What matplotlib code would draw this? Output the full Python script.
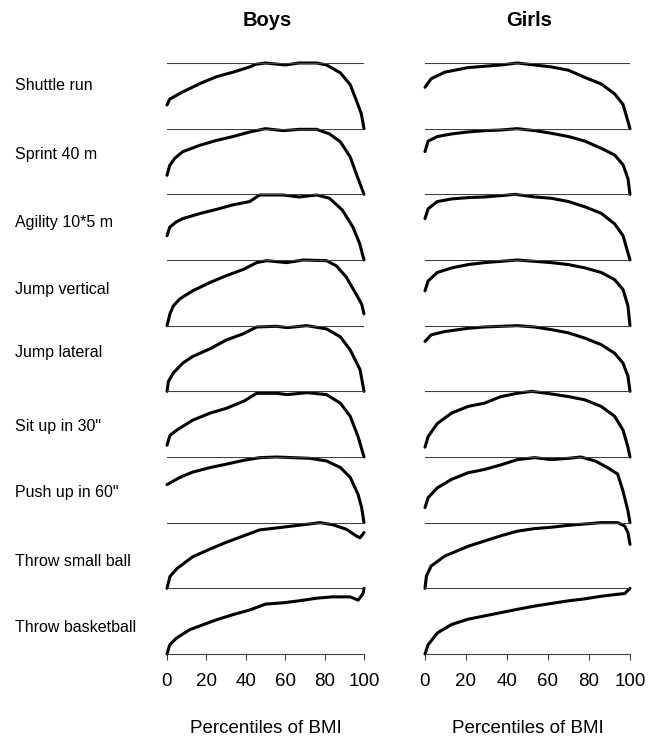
import matplotlib
matplotlib.use('Agg')
import matplotlib.pyplot as plt

plt.rcParams['font.family'] = ['Liberation Sans', 'DejaVu Sans']

# test names, top to bottom
tests = ['Shuttle run', 'Sprint 40 m', 'Agility 10*5 m', 'Jump vertical', 'Jump lateral',
         'Sit up in 30"', 'Push up in 60"', 'Throw small ball', 'Throw basketball']

# BOYS - percentile of BMI and relative score (0 = panel min, 1 = panel max)
boys_shuttle_pct = [0, 1.4, 8, 17, 25, 33.5, 42, 45, 50, 60, 67, 76, 81, 88, 93, 96, 98.6, 100]
boys_shuttle_val = [0.36, 0.45, 0.56, 0.69, 0.79, 0.86, 0.94, 0.98, 1.0, 0.97, 1.0, 1.0, 0.97, 0.85, 0.67, 0.44, 0.23, 0.0]

boys_sprint_pct = [0, 1.4, 4, 8, 17, 25, 33.5, 42, 50, 59, 67, 76, 82.5, 88, 93, 96, 100]
boys_sprint_val = [0.29, 0.44, 0.55, 0.65, 0.75, 0.82, 0.88, 0.95, 1.0, 0.97, 0.99, 0.99, 0.92, 0.80, 0.57, 0.32, 0.0]

boys_agility_pct = [0, 1.4, 4.7, 8, 17, 25, 33.5, 42, 47, 59, 67, 76, 82.5, 89, 94.4, 97.8, 100]
boys_agility_val = [0.37, 0.50, 0.58, 0.63, 0.71, 0.77, 0.84, 0.89, 0.99, 0.99, 0.96, 0.99, 0.94, 0.76, 0.50, 0.25, 0.0]

boys_jumpv_pct = [0, 1.5, 3.2, 6.6, 13, 22, 30, 39, 45.5, 50.6, 60.7, 69, 81, 86, 91, 96, 98.8, 100]
boys_jumpv_val = [0.0, 0.18, 0.30, 0.41, 0.53, 0.66, 0.76, 0.86, 0.96, 0.99, 0.96, 1.0, 0.99, 0.91, 0.74, 0.48, 0.33, 0.18]

boys_jumpl_pct = [0, 0.7, 3.2, 8, 13, 22, 30, 39, 45.5, 55.7, 61, 71, 81, 88, 93, 98, 100]
boys_jumpl_val = [0.0, 0.15, 0.28, 0.43, 0.53, 0.65, 0.78, 0.88, 0.98, 0.99, 0.97, 1.0, 0.95, 0.83, 0.63, 0.33, 0.0]

boys_situp_pct = [0, 1.5, 5, 13, 22, 30, 39, 45.5, 55.7, 61, 71, 81, 88, 93, 97, 100]
boys_situp_val = [0.18, 0.33, 0.41, 0.56, 0.67, 0.74, 0.85, 0.97, 0.97, 0.95, 0.98, 0.95, 0.82, 0.62, 0.31, 0.0]

boys_pushup_pct = [0, 6.6, 13, 22, 30, 39, 47, 55.7, 64, 72.6, 81, 88, 93, 97, 98.8, 100]
boys_pushup_val = [0.58, 0.69, 0.77, 0.84, 0.89, 0.95, 0.99, 1.0, 0.99, 0.98, 0.94, 0.84, 0.69, 0.43, 0.23, 0.0]

boys_small_pct = [0, 1.5, 5, 13, 22, 30, 39, 47, 55.7, 64, 77.7, 84, 91, 96, 98, 100]
boys_small_val = [0.0, 0.18, 0.30, 0.48, 0.60, 0.70, 0.80, 0.89, 0.92, 0.95, 1.0, 0.97, 0.90, 0.80, 0.77, 0.85]

boys_basket_pct = [0, 1.4, 4.7, 11.5, 25, 33.5, 42, 50, 59, 67, 76, 84, 93, 97, 99.5, 100]
boys_basket_val = [0.0, 0.14, 0.24, 0.37, 0.52, 0.60, 0.67, 0.76, 0.78, 0.81, 0.85, 0.87, 0.87, 0.82, 0.92, 1.0]

# GIRLS
girls_shuttle_pct = [0, 3, 9.6, 21, 29, 37, 45, 53.5, 61.6, 70, 78, 86, 92.5, 96.6, 99, 100]
girls_shuttle_val = [0.63, 0.76, 0.86, 0.93, 0.95, 0.97, 1.0, 0.97, 0.94, 0.89, 0.78, 0.68, 0.53, 0.37, 0.11, 0.0]

girls_sprint_pct = [0, 1.5, 6, 13, 21, 29, 37, 45, 53.5, 61.6, 70, 78, 86, 92.5, 96.6, 99, 100]
girls_sprint_val = [0.65, 0.81, 0.88, 0.92, 0.95, 0.97, 0.98, 1.0, 0.97, 0.93, 0.88, 0.81, 0.70, 0.60, 0.45, 0.24, 0.0]

girls_agility_pct = [0, 1.5, 6, 13, 21, 29, 37, 44, 53.5, 61.6, 70, 78, 86, 92.5, 96.6, 99, 100]
girls_agility_val = [0.63, 0.78, 0.89, 0.93, 0.95, 0.96, 0.98, 1.0, 0.96, 0.94, 0.89, 0.81, 0.71, 0.55, 0.37, 0.11, 0.0]

girls_jumpv_pct = [0, 1.5, 6, 13, 21, 29, 37, 45, 53.5, 61.6, 70, 78, 86, 92.5, 96.6, 99, 100]
girls_jumpv_val = [0.53, 0.68, 0.81, 0.88, 0.93, 0.96, 0.98, 1.0, 0.98, 0.96, 0.93, 0.88, 0.81, 0.70, 0.55, 0.30, 0.0]

girls_jumpl_pct = [0, 3, 9.6, 21, 29, 37, 45, 53.5, 61.6, 70, 78, 86, 92.5, 96.6, 99, 100]
girls_jumpl_val = [0.76, 0.86, 0.91, 0.96, 0.98, 0.99, 1.0, 0.98, 0.94, 0.89, 0.81, 0.71, 0.58, 0.43, 0.23, 0.0]

girls_situp_pct = [0, 1.5, 6, 13, 21, 29, 37, 45, 52, 61.6, 70, 78, 86, 92.5, 96.6, 99, 100]
girls_situp_val = [0.15, 0.31, 0.51, 0.67, 0.77, 0.82, 0.92, 0.97, 1.0, 0.96, 0.92, 0.87, 0.77, 0.62, 0.41, 0.15, 0.0]

girls_pushup_pct = [0, 1.5, 6, 13, 21, 29, 37, 45, 53.5, 61.6, 70, 76, 83, 89, 94, 96.6, 99, 100]
girls_pushup_val = [0.23, 0.38, 0.53, 0.66, 0.76, 0.81, 0.88, 0.96, 0.99, 0.96, 0.98, 1.0, 0.94, 0.84, 0.74, 0.48, 0.18, 0.0]

girls_small_pct = [0, 0.7, 3, 9.6, 21, 29, 37, 45, 53.5, 61.6, 70, 78, 86, 94, 97.4, 99, 100]
girls_small_val = [0.0, 0.19, 0.34, 0.49, 0.64, 0.72, 0.80, 0.87, 0.91, 0.93, 0.96, 0.98, 1.0, 1.0, 0.95, 0.85, 0.67]

girls_basket_pct = [0, 1.5, 6, 13, 21, 29, 37, 45, 53.5, 61.6, 70, 78, 86, 94, 97.4, 100]
girls_basket_val = [0.0, 0.14, 0.32, 0.45, 0.53, 0.58, 0.63, 0.68, 0.73, 0.77, 0.81, 0.84, 0.88, 0.91, 0.92, 1.0]

boys = [(boys_shuttle_pct, boys_shuttle_val), (boys_sprint_pct, boys_sprint_val),
        (boys_agility_pct, boys_agility_val), (boys_jumpv_pct, boys_jumpv_val),
        (boys_jumpl_pct, boys_jumpl_val), (boys_situp_pct, boys_situp_val),
        (boys_pushup_pct, boys_pushup_val), (boys_small_pct, boys_small_val),
        (boys_basket_pct, boys_basket_val)]
girls = [(girls_shuttle_pct, girls_shuttle_val), (girls_sprint_pct, girls_sprint_val),
         (girls_agility_pct, girls_agility_val), (girls_jumpv_pct, girls_jumpv_val),
         (girls_jumpl_pct, girls_jumpl_val), (girls_situp_pct, girls_situp_val),
         (girls_pushup_pct, girls_pushup_val), (girls_small_pct, girls_small_val),
         (girls_basket_pct, girls_basket_val)]

# label centres (pixels from top) - not exactly in the panel middles
label_y = [86, 155, 222, 289, 353, 426, 493, 562, 628]

W, H = 654, 738
fig = plt.figure(figsize=(W / 100, H / 100), dpi=100)

top_px, bot_px = 63, 654
row_h = (bot_px - top_px) / len(tests)
cols = [(167, 364, boys, 'Boys'), (425, 630, girls, 'Girls')]

for x0, x1, data, title in cols:
    for i, (px, val) in enumerate(data):
        y_top = top_px + i * row_h
        ax = fig.add_axes([x0 / W, 1 - (y_top + row_h) / H, (x1 - x0) / W, row_h / H])
        ax.plot(px, val, color='black', lw=2.2, solid_joinstyle='round',
                solid_capstyle='round', clip_on=False)
        ax.axhline(1, color='#404040', lw=0.8)
        ax.set_xlim(0, 100)
        ax.set_ylim(0, 1)
        ax.set_yticks([])
        for s in ['top', 'left', 'right']:
            ax.spines[s].set_visible(False)
        ax.patch.set_visible(False)
        if i == len(data) - 1:
            ax.spines['bottom'].set_color('#404040')
            ax.spines['bottom'].set_linewidth(0.8)
            ax.set_xticks([0, 20, 40, 60, 80, 100])
            ax.tick_params(axis='x', length=4, width=0.8, color='#404040', labelsize=13.5, pad=10)
            ax.set_xlabel('Percentiles of BMI', fontsize=13.5, labelpad=21)
        else:
            ax.spines['bottom'].set_visible(False)
            ax.set_xticks([])
    fig.text((x0 + x1) / 2 / W + 2 / W, 1 - 21 / H, title, ha='center', va='center',
             fontsize=14.5, fontweight='bold')

for name, y in zip(tests, label_y):
    fig.text(15 / W, 1 - y / H, name, ha='left', va='center', fontsize=11.5)

fig.savefig('out.png', dpi=100)
